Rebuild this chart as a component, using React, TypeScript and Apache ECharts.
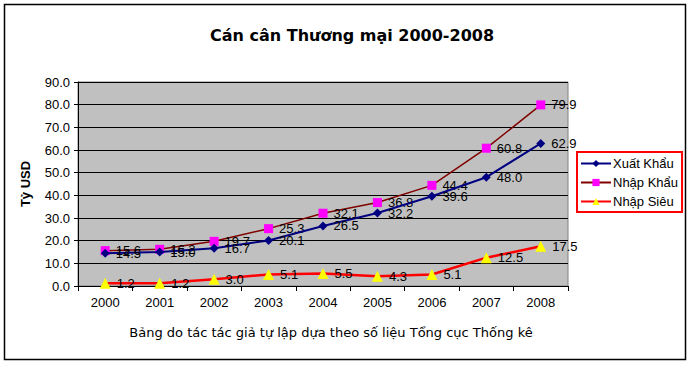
import React, { useEffect, useRef } from "react";
import * as echarts from "echarts";

const years = ["2000", "2001", "2002", "2003", "2004", "2005", "2006", "2007", "2008"];
const xuatKhau = [14.5, 15.0, 16.7, 20.1, 26.5, 32.2, 39.6, 48.0, 62.9];
const nhapKhau = [15.6, 16.2, 19.7, 25.3, 32.1, 36.8, 44.4, 60.8, 79.9];
const nhapSieu = [1.2, 1.2, 3.0, 5.1, 5.5, 4.3, 5.1, 12.5, 17.5];

const FONT = "'Liberation Sans', Arial, sans-serif";
const TITLE_FONT = "'Comic Sans MS', 'DejaVu Sans', sans-serif";

export default function App() {
  const ref = useRef<HTMLDivElement>(null);
  useEffect(() => {
    if (!ref.current) return;
    const chart = echarts.init(ref.current, undefined, { renderer: "svg" });
    const label = {
      show: true,
      position: "right" as const,
      distance: 6,
      color: "#000",
      fontFamily: FONT,
      fontSize: 13,
      formatter: (p: any) => Number(p.value).toFixed(1),
    };
    chart.setOption({
      animation: false,
      backgroundColor: "#fff",
      title: [
        {
          text: "Cán cân Thương mại 2000-2008",
          left: 347,
          top: 22,
          textAlign: "center",
          textStyle: { fontFamily: TITLE_FONT, fontSize: 16, fontWeight: "bold", color: "#000" },
        },
        {
          text: "Bảng do tác tác giả tự lập dựa theo số liệu Tổng cục Thống kê",
          left: 326,
          top: 321,
          textAlign: "center",
          textStyle: { fontFamily: TITLE_FONT, fontSize: 13, fontWeight: "normal", color: "#000" },
        },
      ],
      graphic: [
        {
          type: "rect",
          shape: { x: 4.5, y: 4.5, width: 681, height: 355 },
          style: { fill: "none", stroke: "#000", lineWidth: 1.5 },
          silent: true,
        },
      ],
      legend: {
        orient: "vertical",
        left: 577,
        top: 152,
        width: 104,
        padding: [5, 4, 4, 3],
        itemGap: 6,
        itemWidth: 30,
        itemHeight: 9,
        borderColor: "#ff0000",
        borderWidth: 2,
        textStyle: { fontFamily: FONT, fontSize: 13, color: "#000", padding: [0, 0, 0, -3] },
        data: ["Xuất Khẩu", "Nhập Khẩu", "Nhập Siêu"],
      },
      grid: {
        left: 78,
        top: 82,
        right: 123,
        bottom: 79,
        show: true,
        backgroundColor: "#C0C0C0",
        borderColor: "#808080",
        borderWidth: 1,
      },
      xAxis: {
        type: "category",
        data: years,
        boundaryGap: true,
        axisLine: { lineStyle: { color: "#000", width: 1 } },
        axisTick: { show: true, length: 5, lineStyle: { color: "#000" } },
        axisLabel: { fontFamily: FONT, fontSize: 13, color: "#000", margin: 10 },
        splitLine: { show: false },
      },
      yAxis: {
        type: "value",
        min: 0,
        max: 90,
        interval: 10,
        name: "Tỷ USD",
        nameLocation: "middle",
        nameRotate: 90,
        nameGap: 46,
        nameTextStyle: { fontFamily: FONT, fontSize: 13, fontWeight: "bold", color: "#000" },
        axisLine: { show: true, lineStyle: { color: "#000", width: 1 } },
        axisTick: { show: true, length: 4, lineStyle: { color: "#000" } },
        axisLabel: {
          fontFamily: FONT,
          fontSize: 13,
          color: "#000",
          margin: 8,
          formatter: (v: number) => v.toFixed(1),
        },
        splitLine: { show: true, lineStyle: { color: "#000", width: 1 } },
      },
      series: [
        {
          name: "Xuất Khẩu",
          type: "line",
          data: xuatKhau,
          symbol: "diamond",
          symbolSize: 9,
          lineStyle: { color: "#000080", width: 2 },
          itemStyle: { color: "#000080" },
          label,
          z: 3,
        },
        {
          name: "Nhập Khẩu",
          type: "line",
          data: nhapKhau,
          symbol: "rect",
          symbolSize: 9,
          lineStyle: { color: "#800000", width: 1.5 },
          itemStyle: { color: "#FF00FF" },
          label,
          z: 2,
        },
        {
          name: "Nhập Siêu",
          type: "line",
          data: nhapSieu,
          symbol: "triangle",
          symbolSize: 11,
          lineStyle: { color: "#FF0000", width: 2.5 },
          itemStyle: { color: "#FFFF00" },
          label,
          z: 2,
        },
      ],
    });
    return () => chart.dispose();
  }, []);
  return (
    <div
      ref={ref}
      style={{ position: "fixed", left: 0, top: 0, width: 691, height: 365, background: "#fff" }}
    />
  );
}
